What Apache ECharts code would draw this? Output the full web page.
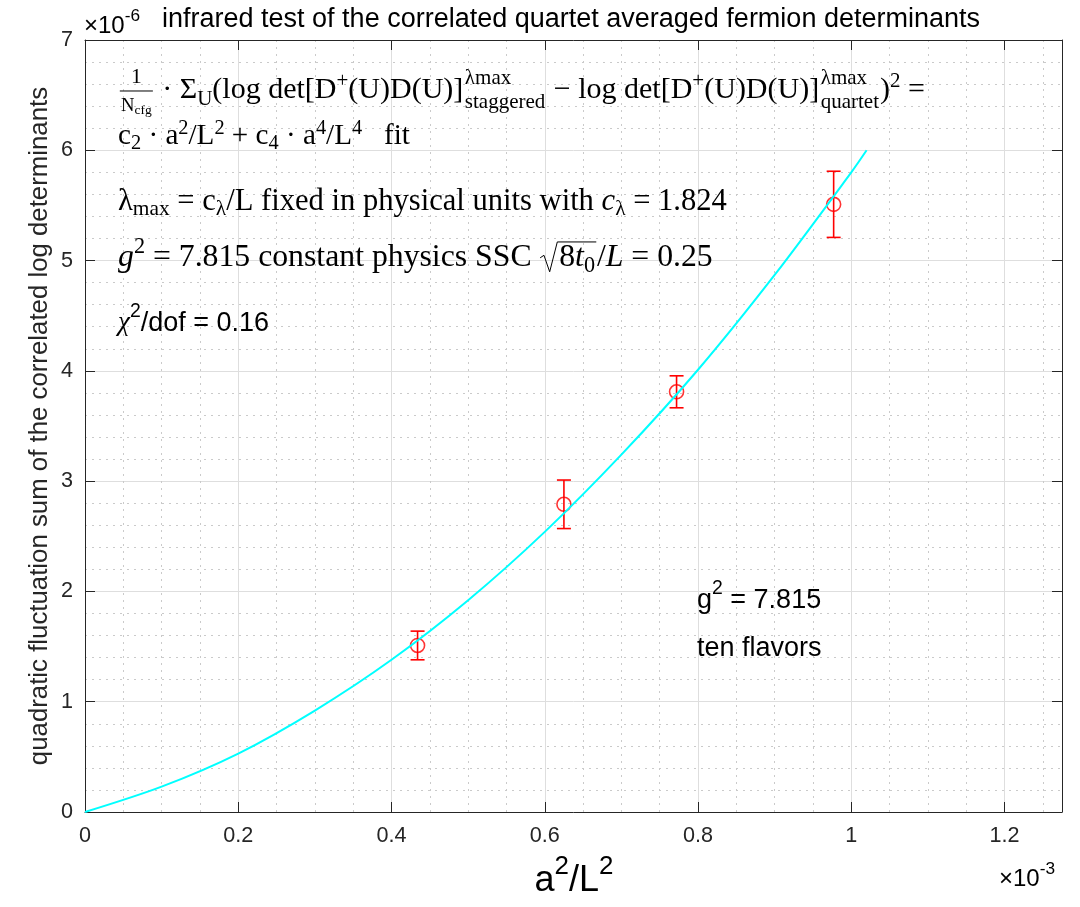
<!DOCTYPE html>
<html>
<head>
<meta charset="utf-8">
<script src="https://cdn.jsdelivr.net/npm/echarts@6/dist/echarts.min.js"></script>
<style>
  html, body { margin: 0; padding: 0; background: #fff; }
  #chart { width: 1080px; height: 907px; }
</style>
</head>
<body>
<div id="chart"></div>
<script>
// a^2/L^2 (units of 1e-3) for the four lattice volumes
const a2L2 = [0.434, 0.625, 0.772, 0.977];
// correlated quadratic fluctuation sum (units of 1e-6) and its errors
const fluct = [1.51, 2.79, 3.81, 5.51];
const fluctErr = [0.13, 0.22, 0.145, 0.30];
// c2*a^2/L^2 + c4*a^4/L^4 fit curve, sampled
const fitX = [0, 0.1, 0.2, 0.3, 0.4, 0.5, 0.6, 0.7, 0.8, 0.9, 1.0, 1.02];
const fitY = [0, 0.23, 0.53, 0.92, 1.38, 1.92, 2.54, 3.24, 4.01, 4.87, 5.80, 6.00];
// axis ranges and ticks
const xTicks = [0, 0.2, 0.4, 0.6, 0.8, 1, 1.2];
const yTicks = [0, 1, 2, 3, 4, 5, 6, 7];
const xMax = 1.275;
const yMax = 7;

const SERIF = '"Liberation Serif", "Times New Roman", serif';
const SANS = '"Liberation Sans", Arial, Helvetica, sans-serif';
const AXIS_COLOR = '#262626';

const mctx = document.createElement('canvas').getContext('2d');
function fnt(size, family, italic) {
  return (italic ? 'italic ' : '') + size.toFixed(2) + 'px ' + family;
}
function measure(str, font) { mctx.font = font; return mctx.measureText(str).width; }

// Small typesetter: lays out strings, sub/superscripts, stacked scripts,
// a fraction and a radical along one baseline; pushes graphic elements to out.
function typeset(items, x0, base, size, family, out) {
  let x = x0;
  const put = (str, px, bl, sz, italic, fam) => {
    const font = fnt(sz, fam || family, italic);
    if (out) {
      out.push({
        type: 'text', x: px, y: bl - 0.33 * sz, silent: true, z: 100,
        style: { text: str, font: font, fill: '#000', align: 'left', verticalAlign: 'middle',
                 textAlign: 'left', textVerticalAlign: 'middle' }
      });
    }
    return measure(str, font);
  };
  for (const it of items) {
    if (typeof it === 'string') { x += put(it, x, base, size, false); continue; }
    if (it.i !== undefined) { x += put(it.i, x, base, size, true, it.f); continue; }
    if (it.sup !== undefined) {
      x += put(it.sup, x + (it.k || 0) * size, base - (it.dy !== undefined ? it.dy : 0.38) * size,
               size * (it.s || 0.7), !!it.it, it.f);
      continue;
    }
    if (it.sub !== undefined) {
      x += put(it.sub, x + (it.k || 0) * size, base + (it.dy !== undefined ? it.dy : 0.16) * size,
               size * (it.s || 0.7), !!it.it, it.f);
      continue;
    }
    if (it.ss) {
      const w1 = put(it.ss[0], x + 0.05 * size, base - 0.48 * size, size * 0.7, false);
      const w2 = put(it.ss[1], x + 0.05 * size, base + 0.3 * size, size * 0.7, false);
      x += Math.max(w1, w2) + 0.08 * size;
      continue;
    }
    if (it.frac) {
      const ns = size * 0.72, ds = size * 0.62, cs = size * 0.45;
      const wn = measure(it.frac[0], fnt(ns, family));
      const wN = measure(it.frac[1], fnt(ds, family));
      const wc = measure(it.frac[2], fnt(cs, family));
      const wd = wN + wc;
      const w = Math.max(wn, wd) + 0.2 * size;
      const cx = x + w / 2;
      put(it.frac[0], cx - wn / 2, base - 0.52 * size, ns, false);
      put(it.frac[1], cx - wd / 2, base + 0.4 * size, ds, false);
      put(it.frac[2], cx - wd / 2 + wN, base + 0.5 * size, cs, false);
      if (out) {
        out.push({ type: 'line', silent: true, z: 100,
          shape: { x1: x + 0.06 * size, y1: base - 0.3 * size, x2: x + w - 0.06 * size, y2: base - 0.3 * size },
          style: { stroke: '#000', lineWidth: 1 } });
      }
      x += w;
      continue;
    }
    if (it.rad) {
      const start = x;
      const inner = x + 0.62 * size;
      const end = typeset(it.rad, inner, base, size, family, out);
      const top = base - 0.82 * size;
      if (out) {
        out.push({ type: 'polyline', silent: true, z: 100,
          shape: { points: [[start + 0.02 * size, base - 0.32 * size], [start + 0.14 * size, base - 0.4 * size],
                            [start + 0.32 * size, base + 0.12 * size], [start + 0.56 * size, top],
                            [end + 0.04 * size, top]] },
          style: { stroke: '#000', lineWidth: 1, fill: null } });
      }
      x = end + 0.06 * size;
      continue;
    }
  }
  return x;
}
// font size that gives a line the requested width
function fitSize(items, family, width) {
  const w = typeset(items, 0, 0, 100, family, null);
  return 100 * width / w;
}

const line1 = [
  { frac: ['1', 'N', 'cfg'] }, ' · Σ', { sub: 'U', dy: 0.2 }, '(log det[D', { sup: '+' }, '(U)D(U)]',
  { ss: ['λmax', 'staggered'] }, ' − log det[D', { sup: '+' }, '(U)D(U)]', { ss: ['λmax', 'quartet'] },
  ')', { sup: '2', dy: 0.4 }, ' ='
];
const line2 = [
  'c', { sub: '2' }, ' · a', { sup: '2' }, '/L', { sup: '2' }, ' + c', { sub: '4' }, ' · a', { sup: '4' },
  '/L', { sup: '4' }, '   fit'
];
const line3 = [
  'λ', { sub: 'max' }, ' = c', { sub: 'λ' }, '/L fixed in physical units with ', { i: 'c' }, { sub: 'λ' }, ' = 1.824'
];
const line4 = [
  { i: 'g' }, { sup: '2', dy: 0.42 }, ' = 7.815 constant physics SSC ',
  { rad: ['8', { i: 't' }, { sub: '0' }] }, '/', { i: 'L' }, ' = 0.25'
];
const line5 = [
  { i: 'χ', f: SERIF }, { sup: '2', dy: 0.5, s: 0.72 }, '/dof = 0.16'
];
const noteG = ['g', { sup: '2', dy: 0.5, s: 0.72 }, ' = 7.815'];
const noteF = ['ten flavors'];
const xName = ['a', { sup: '2', dy: 0.5, s: 0.72 }, '/L', { sup: '2', dy: 0.5, s: 0.72 }];
const xExp = ['×10', { sup: '-3', dy: 0.5, s: 0.72 }];
const yExp = ['×10', { sup: '-6', dy: 0.5, s: 0.72 }];

const graphics = [];
typeset(line1, 118, 100, fitSize(line1, SERIF, 807), SERIF, graphics);
typeset(line2, 118, 146, fitSize(line2, SERIF, 292), SERIF, graphics);
typeset(line3, 118, 212, fitSize(line3, SERIF, 609), SERIF, graphics);
typeset(line4, 118, 268, fitSize(line4, SERIF, 595), SERIF, graphics);
typeset(line5, 118, 332, 27, SANS, graphics);
typeset(noteG, 697, 609, 27, SANS, graphics);
typeset(noteF, 697, 657, 27, SANS, graphics);
// axis name a^2/L^2, centred under the plot
const xNameW = typeset(xName, 0, 0, 36, SANS, null);
typeset(xName, 574 - xNameW / 2, 893, 36, SANS, graphics);
typeset(xExp, 999, 887, 24, SANS, graphics);
typeset(yExp, 84, 34, 24, SANS, graphics);

graphics.push({
  type: 'text', x: 571, y: 20, silent: true, z: 100,
  style: { text: 'infrared test of the correlated quartet averaged fermion determinants',
           font: fnt(27, SANS), fill: '#000', align: 'center', verticalAlign: 'middle',
           textAlign: 'center', textVerticalAlign: 'middle' }
});
graphics.push({
  type: 'text', x: 40, y: 426, rotation: Math.PI / 2, silent: true, z: 100,
  style: { text: 'quadratic fluctuation sum of the correlated log determinants',
           font: fnt(25.8, SANS), fill: AXIS_COLOR, align: 'center', verticalAlign: 'middle',
           textAlign: 'center', textVerticalAlign: 'middle' }
});

function axisBase(showLabel, pos) {
  return {
    type: 'value',
    position: pos,
    axisLine: { show: true, onZero: false, lineStyle: { color: AXIS_COLOR, width: 1 } },
    axisTick: { show: true, inside: true, length: 10, lineStyle: { color: AXIS_COLOR, width: 1 } },
    axisLabel: { show: showLabel, color: AXIS_COLOR, fontSize: 21.6, fontFamily: SANS, showMaxLabel: false },
    splitLine: { show: false },
    minorSplitLine: { show: false }
  };
}

const xMain = Object.assign(axisBase(true, 'bottom'), {
  min: 0, max: xMax, interval: xTicks[1] - xTicks[0],
  splitLine: { show: true, lineStyle: { color: '#dedede', width: 1 } },
  minorTick: { show: false, splitNumber: 4 },
  minorSplitLine: { show: true, lineStyle: { color: '#cacaca', width: 1, type: [2, 5] } }
});
xMain.axisLabel.margin = 13;
xMain.axisLabel.formatter = v => (xTicks.indexOf(+v.toFixed(6)) >= 0 ? String(+v.toFixed(6)) : '');
const xTop = Object.assign(axisBase(false, 'top'), { min: 0, max: xMax, interval: xTicks[1] - xTicks[0] });

const yMain = Object.assign(axisBase(true, 'left'), {
  min: 0, max: yMax, interval: yTicks[1] - yTicks[0],
  splitLine: { show: true, lineStyle: { color: '#dedede', width: 1 } },
  minorTick: { show: false, splitNumber: 5 },
  minorSplitLine: { show: true, lineStyle: { color: '#cacaca', width: 1, type: [2, 5] } }
});
yMain.axisLabel.margin = 12;
yMain.axisLabel.showMaxLabel = true;
const yRight = Object.assign(axisBase(false, 'right'), { min: 0, max: yMax, interval: yTicks[1] - yTicks[0] });

const chart = echarts.init(document.getElementById('chart'), null, { renderer: 'canvas' });
chart.setOption({
  animation: false,
  backgroundColor: '#ffffff',
  grid: { left: 85, right: 18, top: 40, bottom: 95, containLabel: false, outerBoundsMode: 'none' },
  xAxis: [xMain, xTop],
  yAxis: [yMain, yRight],
  series: [
    {
      type: 'custom',
      name: 'errors',
      z: 2,
      data: a2L2.map((x, i) => [x, fluct[i], fluctErr[i]]),
      renderItem: function (params, api) {
        const x = api.value(0), y = api.value(1), e = api.value(2);
        const top = api.coord([x, y + e]);
        const bot = api.coord([x, y - e]);
        const hw = 7;
        const st = { stroke: '#ff0000', lineWidth: 1.6 };
        return {
          type: 'group',
          children: [
            { type: 'line', shape: { x1: top[0], y1: top[1], x2: bot[0], y2: bot[1] }, style: st },
            { type: 'line', shape: { x1: top[0] - hw, y1: top[1], x2: top[0] + hw, y2: top[1] }, style: st },
            { type: 'line', shape: { x1: bot[0] - hw, y1: bot[1], x2: bot[0] + hw, y2: bot[1] }, style: st }
          ]
        };
      }
    },
    {
      type: 'scatter',
      name: 'data',
      z: 3,
      symbol: 'circle',
      symbolSize: 14,
      itemStyle: { color: 'rgba(0,0,0,0)', borderColor: '#ff0000', borderWidth: 1.6 },
      data: a2L2.map((x, i) => [x, fluct[i]])
    },
    {
      type: 'line',
      name: 'fit',
      z: 4,
      smooth: 0.3,
      showSymbol: false,
      symbol: 'none',
      lineStyle: { color: '#00ffff', width: 2 },
      data: fitX.map((x, i) => [x, fitY[i]])
    }
  ],
  graphic: { elements: graphics }
});
</script>
</body>
</html>
